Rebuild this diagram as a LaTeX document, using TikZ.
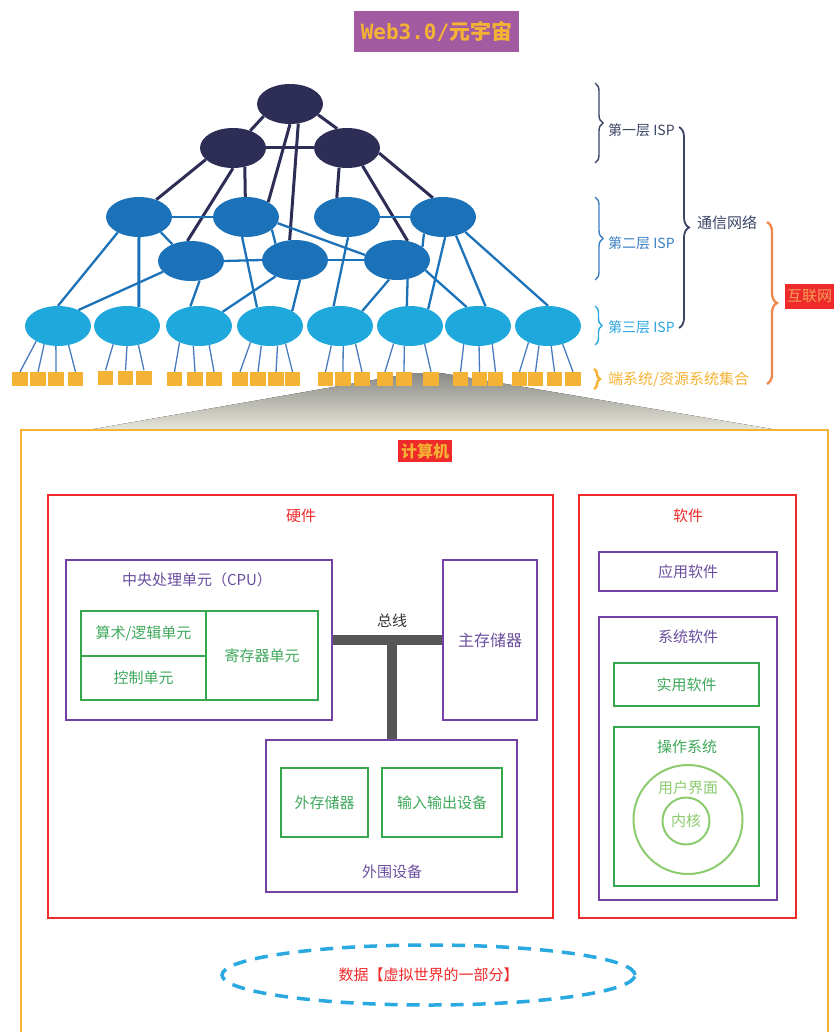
\documentclass[tikz,border=0pt]{standalone}
\usepackage{fontspec}
\setmainfont{Noto Sans CJK SC}
\newfontfamily\titlemono{DejaVu Sans Mono}
\usetikzlibrary{shapes.geometric,decorations.pathreplacing,backgrounds}

\definecolor{navy}{HTML}{2D2D55}
\definecolor{midblue}{HTML}{1C72B8}
\definecolor{lightblue}{HTML}{1FA8DC}
\definecolor{leafblue}{HTML}{4A7BBF}
\definecolor{endsys}{HTML}{F5B335}
\definecolor{titlepurple}{HTML}{A25AA0}
\definecolor{hwred}{HTML}{EE2A2A}
\definecolor{boxpurple}{HTML}{7442A4}
\definecolor{txtpurple}{HTML}{6A4E9E}
\definecolor{boxgreen}{HTML}{35A84E}
\definecolor{txtgreen}{HTML}{3FA85A}
\definecolor{ringgreen}{HTML}{8CCB6E}
\definecolor{busgrey}{HTML}{555657}
\definecolor{bracenavy}{HTML}{3C4466}
\definecolor{bracemid}{HTML}{3A7EC2}
\definecolor{bracelight}{HTML}{2AA6DF}
\definecolor{braceorange}{HTML}{F0874A}
\definecolor{netorange}{HTML}{F5A05A}
\definecolor{dataline}{HTML}{2AA8E0}
\definecolor{trapTop}{HTML}{8A8A87}
\definecolor{trapBottom}{HTML}{E8E6DA}

\begin{document}
\begin{tikzpicture}[x=1pt,y=-1pt,
  tierA/.style={ellipse,fill=navy,minimum width=66pt,minimum height=40pt,inner sep=0pt},
  tierB/.style={ellipse,fill=midblue,minimum width=66pt,minimum height=40pt,inner sep=0pt},
  tierC/.style={ellipse,fill=lightblue,minimum width=66pt,minimum height=40pt,inner sep=0pt},
  endbox/.style={fill=endsys,minimum width=15.5pt,minimum height=14pt,inner sep=0pt},
  coreline/.style={draw=navy,line width=3pt},
  midline/.style={draw=midblue,line width=2.3pt},
  leafline/.style={draw=leafblue,line width=1.3pt},
  isp/.style={anchor=west,inner sep=0pt,font=\fontsize{14}{14}\selectfont},
  sidetxt/.style={anchor=west,inner sep=0pt,font=\fontsize{15}{15}\selectfont},
  curly/.style={decorate,decoration={brace,amplitude=#1}},
  redbox/.style={draw=hwred,line width=2pt,inner sep=0pt},
  purplebox/.style={draw=boxpurple,line width=1.8pt,inner sep=0pt,text=txtpurple,font=\fontsize{15}{15}\selectfont},
  greenbox/.style={draw=boxgreen,line width=2pt,inner sep=0pt,text=txtgreen,font=\fontsize{15}{15}\selectfont},
  lbl/.style={inner sep=0pt,font=\fontsize{15}{15}\selectfont},
  bus/.style={draw=busgrey,line width=10pt},
]
\useasboundingbox (0,0) rectangle (834,1032);

% ---------- title ----------
\node[fill=titlepurple,text=endsys,minimum width=165pt,minimum height=41pt,inner sep=0pt,
      font=\fontsize{21}{21}\selectfont\bfseries] (title) at (436.5,31.5)
      {{\titlemono\bfseries Web3.0/}元宇宙};

% ---------- zoom wedge from one end system down to the computer ----------
\fill[top color=trapTop,bottom color=trapBottom] (413,373) -- (441,373) -- (778,430) -- (88,430) -- cycle;

% ---------- ISP tiers ----------
\node[tierA] (T0) at (290,104) {};
\node[tierA] (T1) at (233,148) {};
\node[tierA] (T2) at (347,148) {};

\node[tierB] (A1) at (139,217) {};
\node[tierB] (A2) at (246,217) {};
\node[tierB] (A3) at (347,217) {};
\node[tierB] (A4) at (443,217) {};
\node[tierB] (B1) at (191,261) {};
\node[tierB] (B2) at (295,260) {};
\node[tierB] (B3) at (397,260) {};

\foreach \n/\x in {C1/58,C2/127,C3/199,C4/270,C5/340,C6/410,C7/478,C8/548}
  \node[tierC] (\n) at (\x,326) {};

% ---------- end systems ----------
\foreach \n/\x in {s11/20,s12/38,s13/56,s14/75.5,
                   s31/174.5,s32/195,s33/214,
                   s41/240,s42/258,s43/276,s44/292.5,
                   s51/325.5,s52/343,s53/362,
                   s61/385,s62/404,s63/431,
                   s71/460.5,s72/479.5,s73/495.5,
                   s81/519.5,s82/535.5,s83/554.5,s84/573}
  \node[endbox] (\n) at (\x,379) {};
\foreach \n/\x in {s21/105.5,s22/125.5,s23/144}
  \node[endbox] (\n) at (\x,377.5) {};

% ---------- links ----------
\begin{scope}[on background layer]
  \foreach \a/\b in {T0.205/T1.45, T0.339/T2.117, T1.0/T2.180, T1.203/A1.45,
                     T1.270/B1.100, T1.302/A2.92, T0.270/A2.34, T0.293/B2.105,
                     T2.248/A3.118, T2.311/B3.61, T2.351/A4.118}
    \draw[coreline] (\a) -- (\b);
  \foreach \a/\b in {A1.0/A2.180, A3.0/A4.180, B1.0/B2.180, B2.0/B3.180,
                     A1.325/B1.138, A2.334/B2.140, A2.349/B3.171, A4.221/B3.27,
                     A1.216/C1.90, B1.201/C1.38, B1.294/C3.114,
                     A2.259/C4.125, B2.220/C3.31, B2.284/C4.34, A3.273/C5.108,
                     B3.248/C5.34, B3.299/C6.99, B3.340/C7.121, A4.276/C6.43,
                     A4.305/C7.69, A4.326/C8.90}
    \draw[midline] (\a) -- (\b);
  \draw[midline,line width=3pt] (A1.270) -- (C2.58);
  \foreach \c/\a/\s in {C1/215/s11, C1/233/s12, C1/264/s13, C1/299/s14,
                        C2/233/s21, C2/270/s22, C2/301/s23,
                        C3/220/s31, C3/254/s32, C3/298/s33,
                        C4/220/s41, C4/246/s42, C4/291/s43, C4/311/s44,
                        C5/246/s51, C5/279/s52, C5/311/s53,
                        C6/227/s61, C6/254/s62, C6/309/s63,
                        C7/232/s71, C7/273/s72, C7/308/s73,
                        C8/220/s81, C8/245/s82, C8/279/s83, C8/309/s84}
    \draw[leafline] (\c.\a) -- (\s.north);
\end{scope}

% ---------- layer braces and labels ----------
\draw[bracenavy,line width=1.4pt,curly=8pt] (595,83) -- (595,163);
\node[isp,text=bracenavy] (isp1) at (608,130) {第一层 ISP};
\draw[bracemid,line width=1.4pt,curly=8pt] (595,197) -- (595,280);
\node[isp,text=bracemid] (isp2) at (608,243) {第二层 ISP};
\draw[bracelight,line width=1.4pt,curly=7pt] (595,306) -- (595,345);
\node[isp,text=bracelight] (isp3) at (608,327) {第三层 ISP};
\draw[endsys,line width=2.4pt,curly=6pt] (594,369) -- (594,389);
\node[sidetxt,text=endsys] (ends) at (608,380) {端系统/资源系统集合};

\draw[bracenavy,line width=1.8pt,curly=10pt] (679,127) -- (679,328);
\node[sidetxt,text=bracenavy] (comm) at (697,223) {通信网络};

\draw[braceorange,line width=2.3pt,curly=10pt] (767,222) -- (767,384);
\node[fill=hwred,text=netorange,anchor=west,minimum height=25pt,inner xsep=2pt,inner ysep=0pt,
      font=\fontsize{15}{15}\selectfont] (inet) at (785,296) {互联网};

% ---------- computer ----------
\draw[endsys,line width=2.5pt] (21,1040) -- (21,430) -- (828,430) -- (828,1040);
\node[fill=hwred,text=endsys,minimum width=54pt,minimum height=22pt,inner sep=0pt,
      font=\fontsize{16}{16}\selectfont\bfseries] (comp) at (425,451) {计算机};

% hardware
\node[redbox,minimum width=505pt,minimum height=423pt] (hw) at (300.5,706.5) {};
\node[lbl,text=hwred] (hwlbl) at (301,516) {硬件};

\node[purplebox,minimum width=266pt,minimum height=160pt] (cpu) at (199,640) {};
\node[lbl,text=txtpurple] (cpulbl) at (197,580) {中央处理单元（CPU）};
\node[greenbox,minimum width=125pt,minimum height=45pt] (alu) at (143.5,633.5) {算术/逻辑单元};
\node[greenbox,minimum width=125pt,minimum height=44pt] (ctrl) at (143.5,678) {控制单元};
\node[greenbox,minimum width=112pt,minimum height=89pt] (reg) at (262,655.5) {寄存器单元};

\node[purplebox,minimum width=94pt,minimum height=160pt,font=\fontsize{16}{16}\selectfont] (mem) at (490,640) {主存储器};

\node[purplebox,minimum width=251pt,minimum height=152pt] (periph) at (391.5,816) {};
\node[lbl,text=txtpurple] (periphlbl) at (392,872) {外围设备};
\node[greenbox,minimum width=87pt,minimum height=69pt] (ext) at (324.5,802.5) {外存储器};
\node[greenbox,minimum width=120pt,minimum height=69pt] (io) at (442,802.5) {输入输出设备};

\coordinate (busjoint) at (392,640);
\draw[bus] (cpu.east |- busjoint) -- (mem.west |- busjoint);
\draw[bus] (busjoint) -- (busjoint |- periph.north);
\node[lbl,text=black!80] (buslbl) at (392,621) {总线};

% software
\node[redbox,minimum width=217pt,minimum height=423pt] (sw) at (687.5,706.5) {};
\node[lbl,text=hwred] (swlbl) at (688,516) {软件};
\node[purplebox,minimum width=178pt,minimum height=39pt] (app) at (688,571.5) {应用软件};
\node[purplebox,minimum width=178pt,minimum height=283pt] (sys) at (688,758.5) {};
\node[lbl,text=txtpurple] (syslbl) at (688,637) {系统软件};
\node[greenbox,minimum width=145pt,minimum height=43pt] (util) at (686.5,684.5) {实用软件};
\node[greenbox,minimum width=145pt,minimum height=159pt] (os) at (686.5,806.5) {};
\node[lbl,text=txtgreen] (oslbl) at (687,747) {操作系统};
\node[circle,draw=ringgreen,line width=2pt,minimum size=109pt,inner sep=0pt] (ui) at (688,819.5) {};
\node[lbl,text=ringgreen] (uilbl) at (688,788) {用户界面};
\node[circle,draw=ringgreen,line width=2pt,minimum size=47pt,inner sep=0pt,
      text=ringgreen,font=\fontsize{15}{15}\selectfont] (kernel) at (686,821) {内核};

% data
\node[ellipse,draw=dataline,line width=3.5pt,dash pattern=on 13pt off 9pt,
      minimum width=413pt,minimum height=60pt,inner sep=0pt,
      text=hwred,font=\fontsize{15}{15}\selectfont] (data) at (428.5,975) {数据【虚拟世界的一部分】};
\end{tikzpicture}
\end{document}
